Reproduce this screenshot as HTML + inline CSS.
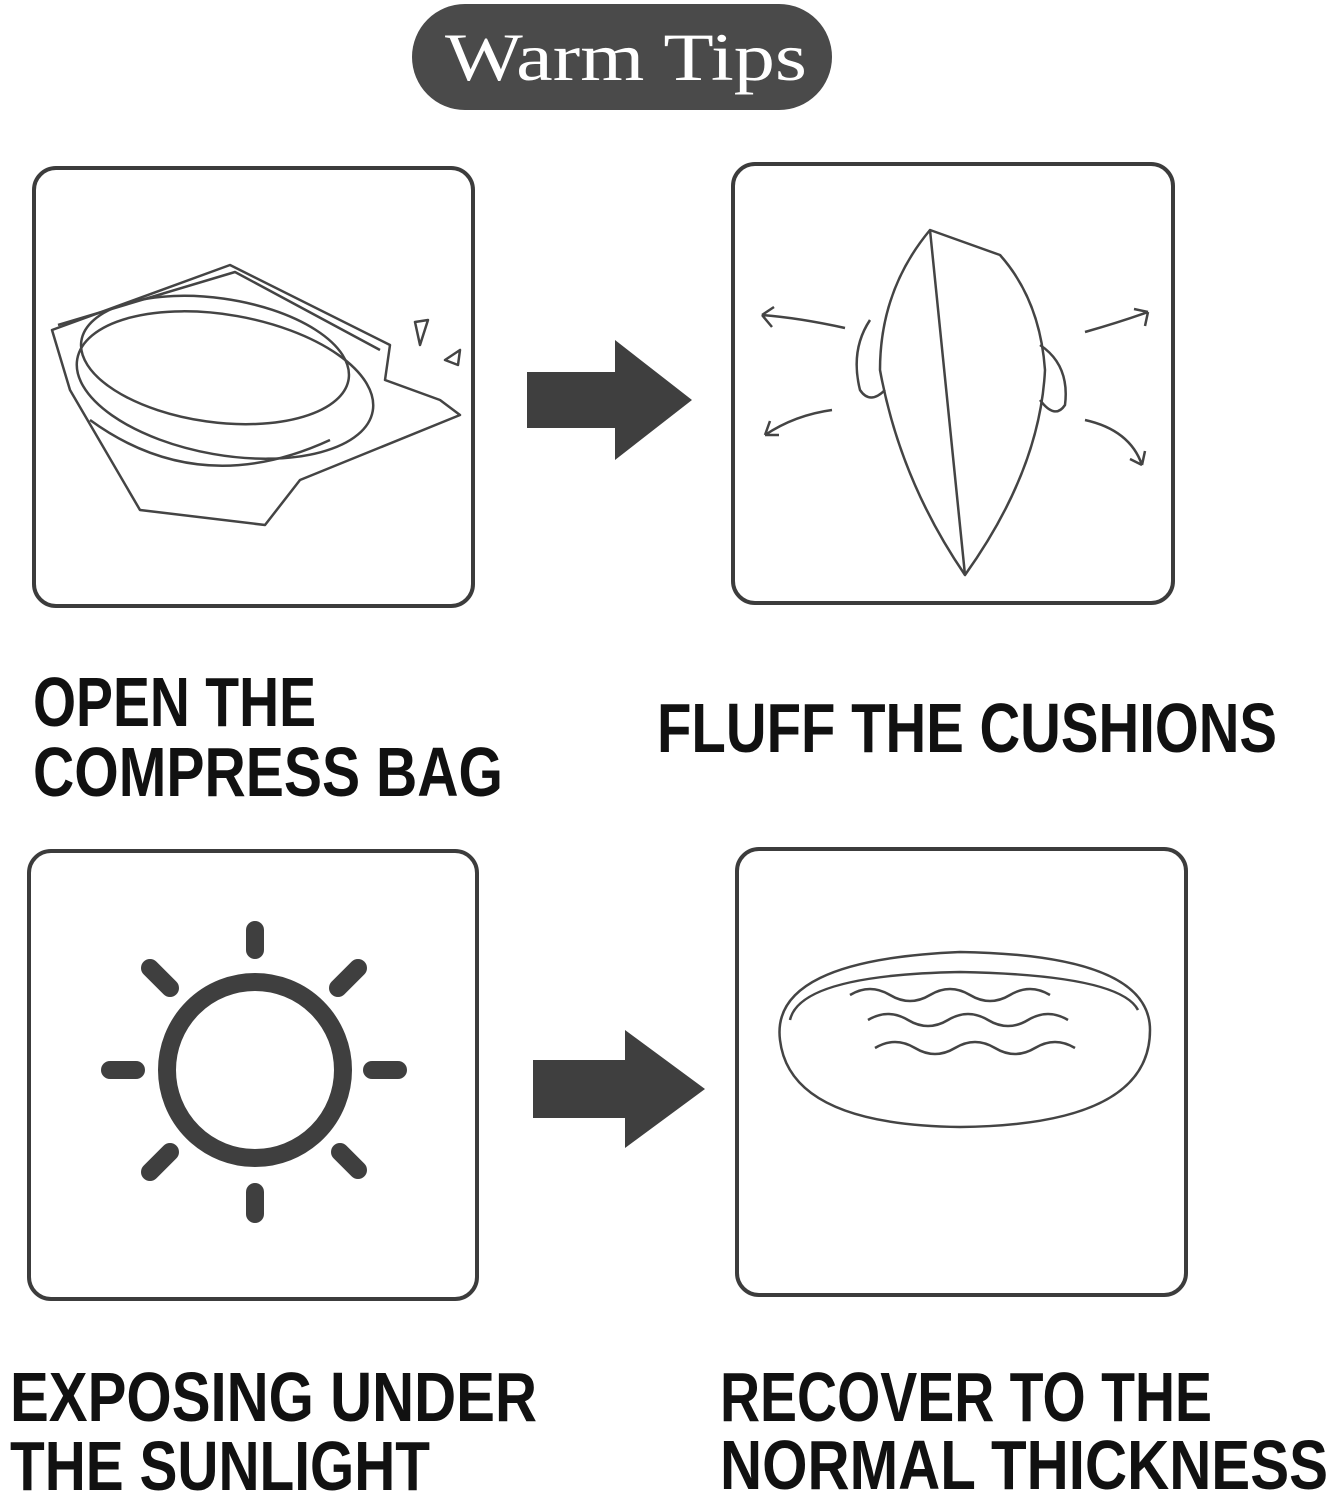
<!DOCTYPE html>
<html><head><meta charset="utf-8"><style>
html,body{margin:0;padding:0;background:#fff;}
svg{display:block;}
</style></head><body>
<svg width="1333" height="1500" viewBox="0 0 1333 1500" xmlns="http://www.w3.org/2000/svg">
<rect x="412" y="4" width="420" height="106" rx="53" fill="#4a4a4a"/>
<text x="445" y="80" font-family="Liberation Serif, serif" font-size="68" fill="#fff" textLength="362" lengthAdjust="spacingAndGlyphs">Warm Tips</text>

<g fill="none" stroke="#3c3c3c" stroke-width="4">
<rect x="34" y="168" width="439" height="438" rx="22"/>
<rect x="733" y="164" width="440" height="439" rx="22"/>
<rect x="29" y="851" width="448" height="448" rx="22"/>
<rect x="737" y="849" width="449" height="446" rx="22"/>
</g>

<polygon points="527,372 615,372 615,340 692,400 615,460 615,428 527,428" fill="#3f3f3f"/>
<polygon points="533,1060 625,1060 625,1030 705,1089 625,1148 625,1118 533,1118" fill="#3f3f3f"/>

<g fill="none" stroke="#444" stroke-width="2.5" stroke-linejoin="round">
<path d="M52,330 L230,265 L390,345 L385,380 L440,400 L460,415 L300,480 L265,525 L140,510 L70,390 Z"/>
<path d="M58,325 L235,272 L380,350"/>
<ellipse cx="215" cy="360" rx="135" ry="62" transform="rotate(8 215 360)"/>
<ellipse cx="225" cy="385" rx="150" ry="70" transform="rotate(10 225 385)"/>
<path d="M90,420 Q200,500 330,440"/>
<path d="M415,322 L428,320 L420,345 Z"/>
<path d="M445,360 L460,350 L458,365 Z"/>
</g>

<g fill="none" stroke="#444" stroke-width="2.5" stroke-linejoin="round">
<path d="M930,230 L1000,255 Q1040,300 1045,370 Q1040,470 965,575 Q900,480 880,370 Q880,290 930,230 Z"/>
<path d="M930,230 L965,575"/>
<path d="M870,320 q-20,30 -10,70 q10,15 25,0 M1040,345 q30,20 25,60 q-10,15 -25,-5"/>
<path d="M845,328 Q800,318 762,315 M762,315 l12,-8 M762,315 l10,12"/>
<path d="M1085,332 Q1120,322 1148,312 M1148,312 l-14,-3 M1148,312 l-3,14"/>
<path d="M832,410 Q795,415 765,435 M765,435 l5,-14 M765,435 l14,0"/>
<path d="M1085,420 Q1130,430 1142,465 M1142,465 l-12,-6 M1142,465 l3,-14"/>
</g>

<circle cx="255" cy="1070" r="88" fill="none" stroke="#3f3f3f" stroke-width="18"/>
<g stroke="#3f3f3f" stroke-width="18" stroke-linecap="round">
<line x1="255" y1="930" x2="255" y2="950"/>
<line x1="255" y1="1192" x2="255" y2="1214"/>
<line x1="110" y1="1070" x2="136" y2="1070"/>
<line x1="372" y1="1070" x2="398" y2="1070"/>
<line x1="150" y1="968" x2="170" y2="988"/>
<line x1="340" y1="1152" x2="358" y2="1170"/>
<line x1="358" y1="968" x2="338" y2="988"/>
<line x1="170" y1="1152" x2="150" y2="1172"/>
</g>

<g fill="none" stroke="#444" stroke-width="2.5">
<path d="M780,1040 Q770,960 960,952 Q1150,955 1150,1030 Q1150,1125 960,1127 Q790,1125 780,1040 Z"/>
<path d="M790,1020 Q800,975 960,972 Q1120,975 1138,1010"/>
<path d="M850,995 q20,-12 40,0 t40,0 t40,0 t40,0 t40,0"/>
<path d="M868,1020 q20,-12 40,0 t40,0 t40,0 t40,0 t40,0"/>
<path d="M875,1048 q20,-12 40,0 t40,0 t40,0 t40,0 t40,0"/>
</g>

<g font-family="Liberation Sans Narrow, Liberation Sans, sans-serif" font-weight="bold" font-size="70" fill="#111">
<text x="33" y="726" textLength="283" lengthAdjust="spacingAndGlyphs">OPEN THE</text>
<text x="33" y="796" textLength="470" lengthAdjust="spacingAndGlyphs">COMPRESS BAG</text>
<text x="657" y="752" textLength="620" lengthAdjust="spacingAndGlyphs">FLUFF THE CUSHIONS</text>
<text x="10" y="1421" textLength="527" lengthAdjust="spacingAndGlyphs">EXPOSING UNDER</text>
<text x="10" y="1490" textLength="420" lengthAdjust="spacingAndGlyphs">THE SUNLIGHT</text>
<text x="720" y="1421" textLength="492" lengthAdjust="spacingAndGlyphs">RECOVER TO THE</text>
<text x="720" y="1489" textLength="608" lengthAdjust="spacingAndGlyphs">NORMAL THICKNESS</text>
</g>
</svg>
</body></html>
